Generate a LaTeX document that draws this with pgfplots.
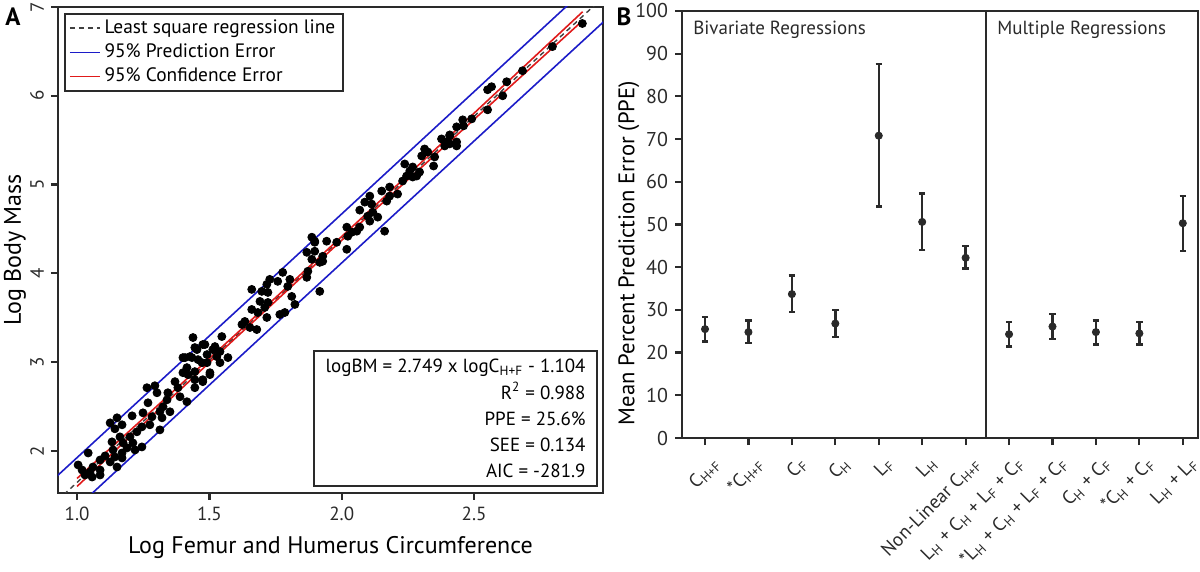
\documentclass[border=0pt]{standalone}
\usepackage{pgfplots}
\pgfplotsset{compat=1.18}
\usepackage{fontspec}
\setmainfont{PT Sans}
\definecolor{axc}{HTML}{2A2A2A}
\definecolor{pblue}{RGB}{28,28,200}
\definecolor{cred}{RGB}{224,26,26}
\begin{document}
\begin{tikzpicture}
\useasboundingbox (0,0) rectangle (600bp,286bp);
\begin{axis}[
  at={(29bp,39.5bp)}, anchor=south west, scale only axis,
  width=272.5bp, height=243bp,
  xmin=0.928, xmax=2.987, ymin=1.526, ymax=7.0,
  axis line style={axc, line width=1.1bp},
  tick style={axc, line width=1.1bp},
  tick align=outside, tick pos=left, major tick length=3.5bp,
  /pgf/number format/assume math mode=true,
  xtick={1.0,1.5,2.0,2.5}, xticklabels={1.0,1.5,2.0,2.5},
  ytick={2,3,4,5,6,7},
  tick label style={font=\fontsize{9.5bp}{11bp}\selectfont, text=axc},
  yticklabel style={rotate=90, anchor=south},
  xlabel={Log Femur and Humerus Circumference},
  ylabel={Log Body Mass},
  label style={font=\fontsize{12bp}{14bp}\selectfont},
  xlabel style={at={(axis description cs:0.5,-0.113)}, anchor=center},
  ylabel style={at={(axis description cs:-0.079,0.5)}, anchor=center},
  legend cell align=left,
  legend style={at={(0.011,0.988)}, anchor=north west, draw=axc, line width=1bp,
    font=\fontsize{9.7bp}{11bp}\selectfont, inner xsep=2bp, inner ysep=1bp,
    row sep=-0.3bp},
]
\addlegendimage{legend image code/.code={\draw[black!75, line width=0.8bp, dash pattern=on 2.5bp off 2bp] (0bp,0bp) -- (15bp,0bp);}}
\addlegendentry{Least square regression line}
\addlegendimage{legend image code/.code={\draw[pblue, line width=0.8bp] (0bp,0bp) -- (15bp,0bp);}}
\addlegendentry{95\% Prediction Error}
\addlegendimage{legend image code/.code={\draw[cred, line width=0.8bp] (0bp,0bp) -- (15bp,0bp);}}
\addlegendentry{95\% Confidence Error}
\addplot[only marks, mark=*, mark size=2bp, black, forget plot] table {
x y
2.909 6.814
2.796 6.554
2.683 6.282
2.623 6.158
2.608 6.000
2.566 6.102
2.551 6.068
2.551 5.842
2.491 5.740
2.457 5.729
2.460 5.661
2.434 5.650
2.408 5.548
2.377 5.514
2.408 5.458
2.434 5.480
2.434 5.435
2.389 5.435
2.408 5.559
2.400 5.480
2.313 5.401
2.325 5.367
2.302 5.322
2.351 5.311
2.347 5.209
2.238 5.232
2.268 5.198
2.257 5.153
2.294 5.141
2.245 5.096
2.268 5.085
2.283 5.096
2.230 5.040
2.181 4.972
2.151 4.927
2.211 4.893
2.181 4.870
2.170 4.814
2.106 4.870
2.087 4.802
2.113 4.780
2.068 4.712
2.117 4.689
2.098 4.644
2.136 4.633
2.106 4.588
2.068 4.520
2.019 4.520
2.038 4.463
2.057 4.475
2.162 4.475
2.023 4.418
1.943 4.362
1.981 4.350
2.019 4.271
1.898 4.362
1.887 4.407
1.898 4.249
1.928 4.192
1.917 4.124
1.928 4.136
1.898 4.350
1.868 4.237
1.887 4.158
1.872 4.023
1.868 3.955
1.917 3.797
1.777 4.011
1.758 3.910
1.804 3.932
1.796 3.853
1.811 3.740
1.823 3.650
1.728 3.932
1.717 3.876
1.660 3.819
1.698 3.797
1.721 3.785
1.691 3.684
1.721 3.672
1.709 3.616
1.660 3.593
1.683 3.559
1.717 3.503
1.766 3.537
1.785 3.559
1.634 3.458
1.623 3.424
1.653 3.390
1.679 3.367
1.438 3.277
1.547 3.288
1.475 3.198
1.445 3.164
1.513 3.141
1.540 3.119
1.491 3.085
1.528 3.062
1.570 3.051
1.426 3.062
1.400 3.051
1.457 3.028
1.472 2.994
1.540 2.994
1.415 2.938
1.445 2.893
1.400 2.881
1.502 2.859
1.475 2.802
1.483 3.198
1.521 3.175
1.453 3.141
1.408 3.051
1.434 3.051
1.491 2.994
1.419 2.859
1.502 2.881
1.445 2.802
1.475 2.780
1.370 2.780
1.381 2.712
1.445 2.712
1.264 2.712
1.294 2.734
1.302 2.655
1.343 2.655
1.340 2.576
1.389 2.610
1.415 2.554
1.268 2.542
1.325 2.497
1.351 2.441
1.313 2.441
1.249 2.429
1.283 2.384
1.208 2.395
1.321 2.373
1.151 2.373
1.125 2.316
1.170 2.294
1.143 2.249
1.275 2.294
1.245 2.271
1.313 2.237
1.226 2.215
1.200 2.158
1.162 2.158
1.245 2.045
1.132 2.102
1.174 2.090
1.211 2.090
1.189 2.034
1.219 2.011
1.136 2.011
1.170 1.977
1.042 1.977
1.106 1.944
1.143 1.932
1.170 1.921
1.087 1.898
1.125 1.876
1.151 1.819
1.004 1.842
1.060 1.819
1.019 1.785
1.049 1.763
1.087 1.785
1.030 1.729
1.057 1.706
1.087 1.729
};
\addplot[color=black!75, line width=0.7bp, dash pattern=on 2.5bp off 2bp, forget plot] coordinates {(0.9,1.370) (3.0,7.143)};
\addplot[color=pblue, line width=0.8bp, forget plot] coordinates {(0.9,1.650) (1.8,4.119) (3.0,7.423)};
\addplot[color=pblue, line width=0.8bp, forget plot] coordinates {(0.9,1.090) (1.8,3.569) (3.0,6.863)};
\addplot[color=cred, line width=0.8bp, forget plot] coordinates {(1.0,1.690) (1.3,2.500) (1.6,3.314) (1.9,4.139) (2.2,4.969) (2.5,5.804) (2.91,6.946)};
\addplot[color=cred, line width=0.8bp, forget plot] coordinates {(1.0,1.600) (1.3,2.440) (1.6,3.274) (1.9,4.099) (2.2,4.919) (2.5,5.734) (2.91,6.846)};
\node[draw=axc, line width=1bp, anchor=south east, align=right,
  font=\fontsize{9.5bp}{13.1bp}\selectfont,
  inner xsep=5bp, inner ysep=3bp, minimum height=67.5bp, minimum width=141.5bp]
  at (rel axis cs:0.991,0.012)
  {logBM = 2.749 x logC\textsubscript{H+F} - 1.104\\
   R\textsuperscript{2} = 0.988\\
   PPE = 25.6\%\\
   SEE = 0.134\\
   AIC = -281.9};
\end{axis}

\begin{axis}[
  at={(341bp,67bp)}, anchor=south west, scale only axis,
  width=258bp, height=213.5bp,
  xmin=-0.53, xmax=11.35, ymin=0, ymax=100,
  axis line style={axc, line width=1.1bp},
  tick style={axc, line width=1.1bp},
  tick align=outside, tick pos=left, major tick length=3.5bp,
  /pgf/number format/assume math mode=true,
  ytick={0,10,...,100},
  xtick={0,...,11},
  xticklabels={
    C\textsubscript{H+F},
    *C\textsubscript{H+F},
    C\textsubscript{F},
    C\textsubscript{H},
    L\textsubscript{F},
    L\textsubscript{H},
    Non-Linear C\textsubscript{H+F},
    L\textsubscript{H} + C\textsubscript{H} + L\textsubscript{F} + C\textsubscript{F},
    *L\textsubscript{H} + C\textsubscript{H} + L\textsubscript{F} + C\textsubscript{F},
    C\textsubscript{H} + C\textsubscript{F},
    *C\textsubscript{H} + C\textsubscript{F},
    L\textsubscript{H} + L\textsubscript{F}},
  yticklabel style={font=\fontsize{10bp}{12bp}\selectfont, text=axc},
  xticklabel style={font=\fontsize{9.5bp}{11bp}\selectfont, text=axc, xshift=3bp, yshift=-3.5bp, rotate=45, anchor=north east, inner sep=1bp},
  ylabel={Mean Percent Prediction Error (PPE)},
  ylabel style={font=\fontsize{11.3bp}{14bp}\selectfont, at={(axis description cs:-0.103,0.433)}, anchor=center},
]
\addplot[only marks, mark=*, mark size=1.8bp, color=axc,
  error bars/.cd, y dir=both, y explicit, error mark=|,
  error bar style={line width=1.2bp, color=axc},
  error mark options={mark size=1.6bp, line width=1.2bp, color=axc}]
coordinates {
(0,25.5) += (0,2.9) -= (0,2.9)
(1,24.8) += (0,2.7) -= (0,2.6)
(2,33.7) += (0,4.4) -= (0,4.2)
(3,26.8) += (0,3.2) -= (0,3.2)
(4,70.8) += (0,16.8) -= (0,16.6)
(5,50.6) += (0,6.7) -= (0,6.6)
(6,42.2) += (0,2.8) -= (0,2.5)
(7,24.3) += (0,2.9) -= (0,2.9)
(8,26.1) += (0,2.9) -= (0,2.9)
(9,24.8) += (0,2.7) -= (0,2.9)
(10,24.5) += (0,2.6) -= (0,2.6)
(11,50.3) += (0,6.4) -= (0,6.5)
};
\draw[axc, line width=1.1bp] (axis cs:6.47,0) -- (axis cs:6.47,100);
\node[anchor=west, font=\fontsize{9.5bp}{11bp}\selectfont, text=axc, inner sep=0pt] at (axis cs:-0.28,95.5) {Bivariate Regressions};
\node[anchor=west, font=\fontsize{9.5bp}{11bp}\selectfont, text=axc, inner sep=0pt] at (axis cs:6.72,95.5) {Multiple Regressions};
\end{axis}
\node[font=\fontsize{12.5bp}{14bp}\selectfont\bfseries, text=black] at (6.5bp,277.5bp) {A};
\node[font=\fontsize{12.5bp}{14bp}\selectfont\bfseries, text=black] at (312bp,277.5bp) {B};
\end{tikzpicture}
\end{document}
